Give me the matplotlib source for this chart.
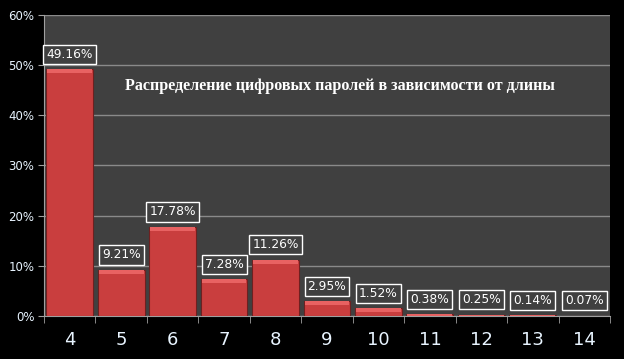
import matplotlib.pyplot as plt

lengths = ['4', '5', '6', '7', '8', '9', '10', '11', '12', '13', '14']
shares = [49.16, 9.21, 17.78, 7.28, 11.26, 2.95, 1.52, 0.38, 0.25, 0.14, 0.07]
title = 'Распределение цифровых паролей в зависимости от длины'

fig = plt.figure(figsize=(6.24, 3.59), dpi=100, facecolor='black')
ax = fig.add_axes([0.0705, 0.1198, 0.907, 0.8384])
ax.set_facecolor('#404040')

x = range(len(lengths))
ax.bar(x, shares, width=0.91, color='#c93e3e', edgecolor='#6e2020', linewidth=0.8, zorder=3)
# light bevel on the top of each bar
bevel = [min(0.8, v) for v in shares]
ax.bar(x, bevel, bottom=[v - b for v, b in zip(shares, bevel)], width=0.87,
       color='#e86262', linewidth=0, zorder=3)

for i, v in enumerate(shares):
    ax.annotate(f'{v:.2f}%', (i, v), xytext=(0, 6), textcoords='offset points',
                ha='center', va='bottom', color='white', fontsize=8.8, zorder=4,
                bbox=dict(boxstyle='square,pad=0.25', fc='#404040', ec='white', lw=1))

ax.set_xlim(-0.5, len(lengths) - 0.5)
ax.set_ylim(0, 60)
ax.set_yticks(range(0, 61, 10))
ax.set_yticklabels([f'{t}%' for t in range(0, 61, 10)], color='#e8f4ff', fontsize=8.5)
ax.set_xticks(list(x))
ax.set_xticklabels(lengths, color='#e8f4ff', fontsize=13)
ax.set_xticks([i + 0.5 for i in range(-1, len(lengths))], minor=True)
ax.tick_params(axis='x', which='major', length=0, pad=11)
ax.tick_params(axis='x', which='minor', length=5, color='#a0a0a0', direction='out')
ax.tick_params(axis='y', length=4, color='#a0a0a0', pad=3)
ax.yaxis.grid(True, color='#8a8a8a', linewidth=1, zorder=1)

for side in ['top', 'right']:
    ax.spines[side].set_visible(False)
for side in ['left', 'bottom']:
    ax.spines[side].set_color('#a0a0a0')

ax.text(0.523, 0.765, title, transform=ax.transAxes, ha='center', va='center',
        color='white', fontsize=11.6, fontweight='bold', family='Liberation Serif')

fig.savefig('out.png', dpi=100, facecolor='black')
